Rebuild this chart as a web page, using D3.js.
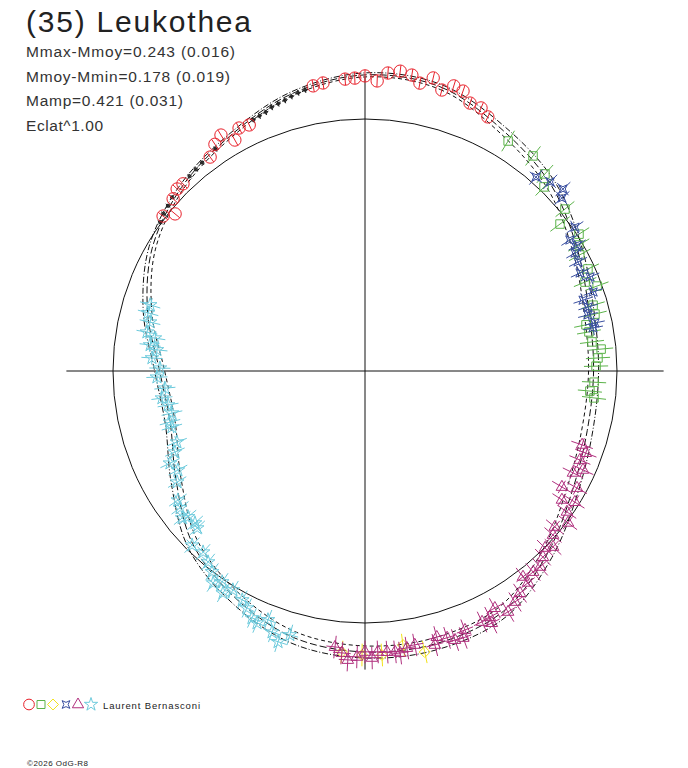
<!DOCTYPE html>
<html lang="fr">
<head>
    <meta charset="UTF-8">
    <title>(35) Leukothea</title>
    <script src="https://cdn.jsdelivr.net/npm/d3@7"></script>
    <style>
        body {
            margin: 0;
            background: #fff;
            font-family: "Liberation Sans", Arial, sans-serif;
        }
    </style>
</head>
<body>
    <div id="chart"></div>

    <script>
        // Fit curve: phase (deg, clockwise from top) and relative radius (reference circle = 1)
        const fitPhase = [0, 15, 30, 45, 60, 75, 90, 105, 120, 135, 150, 165,
                          180, 195, 210, 225, 240, 255, 270, 285, 300, 315, 330, 345];
        const fitMid = [1.175, 1.166, 1.100, 1.044, 0.972, 0.920, 0.907, 0.913, 0.950, 1.024, 1.100, 1.118,
                        1.115, 1.095, 1.036, 0.968, 0.866, 0.800, 0.815, 0.893, 0.975, 1.030, 1.075, 1.137];
        const fitHi = [1.183, 1.176, 1.116, 1.064, 0.992, 0.940, 0.927, 0.935, 0.974, 1.048, 1.124, 1.142,
                       1.139, 1.119, 1.060, 0.992, 0.888, 0.820, 0.835, 0.911, 0.989, 1.040, 1.083, 1.145];
        const fitLo = [1.167, 1.156, 1.084, 1.024, 0.952, 0.900, 0.887, 0.891, 0.926, 1.000, 1.076, 1.094,
                       1.091, 1.071, 1.012, 0.944, 0.844, 0.780, 0.795, 0.875, 0.961, 1.020, 1.067, 1.129];

        // Observations [phase deg, relative radius]
        const redPts = [[307.5, 1.010], [309.6, 0.978], [311.9, 1.023], [314.1, 1.038], [315.8, 1.036],
            [324.1, 1.048], [326.5, 1.079], [328.6, 1.097], [330.6, 1.052], [332.6, 1.086], [334.8, 1.079],
            [349.7, 1.150], [351.7, 1.155], [356.1, 1.161], [358.0, 1.163], [0.0, 1.171], [2.4, 1.152],
            [4.4, 1.186], [6.7, 1.198], [9.0, 1.189], [10.8, 1.163], [13.1, 1.194], [15.3, 1.156],
            [17.3, 1.185], [19.3, 1.177], [21.4, 1.142], [23.8, 1.141], [25.8, 1.120]];
        const greenPts = [[31.9, 1.075], [38.0, 1.083], [42.4, 1.059], [44.2, 1.019], [51.0, 1.021],
            [53.0, 0.969], [57.4, 1.008], [59.5, 0.985], [61.6, 0.969], [65.4, 0.973], [68.0, 0.942],
            [69.9, 0.981], [73.9, 0.942], [76.1, 0.940], [78.2, 0.896], [80.1, 0.902], [82.7, 0.908],
            [84.7, 0.941], [86.8, 0.926], [88.8, 0.917], [92.8, 0.910], [95.1, 0.896], [96.7, 0.915]];
        const yellowPts = [[184.7, 1.119], [180.6, 1.127], [176.6, 1.129], [172.1, 1.098], [168.0, 1.140]];
        const bluePts = [[41.4, 1.026], [44.4, 1.050], [47.4, 1.067], [48.7, 1.040], [55.6, 1.010],
            [57.4, 0.965], [59.3, 0.979], [60.7, 0.956], [62.9, 0.950], [65.5, 0.938], [67.3, 0.968],
            [70.9, 0.958], [72.0, 0.910], [74.0, 0.921], [75.9, 0.912], [78.2, 0.932], [79.3, 0.921]];
        const magentaPts = [[108.8, 0.910], [110.4, 0.935], [112.5, 0.923], [114.4, 0.950], [116.1, 0.919],
            [118.9, 0.961], [120.5, 0.907], [123.2, 0.934], [122.0, 0.982], [124.9, 0.977], [126.8, 1.006],
            [129.4, 0.975], [131.1, 0.990], [133.1, 1.022], [134.5, 1.002], [136.3, 1.022], [138.2, 1.043],
            [140.1, 1.040], [142.5, 1.030], [142.4, 1.061], [145.1, 1.075], [147.0, 1.093], [149.3, 1.112],
            [151.3, 1.073], [153.1, 1.095], [153.3, 1.120], [155.0, 1.099], [158.9, 1.102], [159.8, 1.129],
            [161.5, 1.126], [162.9, 1.108], [164.9, 1.094], [165.7, 1.122], [169.7, 1.105], [171.4, 1.112],
            [172.9, 1.128], [173.9, 1.121], [175.5, 1.119], [177.4, 1.116], [178.6, 1.139], [180.0, 1.115],
            [181.6, 1.135], [183.4, 1.149], [184.7, 1.123], [186.2, 1.102]];
        const cyanPts = [[287.1, 0.892], [285.0, 0.891], [282.8, 0.875], [280.1, 0.879], [278.9, 0.844],
            [276.9, 0.859], [275.8, 0.830], [273.5, 0.847], [270.8, 0.814], [268.3, 0.826], [265.1, 0.797],
            [262.4, 0.813], [260.2, 0.793], [257.7, 0.784], [255.3, 0.800], [253.8, 0.798], [249.3, 0.798],
            [246.9, 0.820], [244.7, 0.856], [242.1, 0.840], [239.4, 0.866], [235.4, 0.902], [233.5, 0.913],
            [230.5, 0.910], [228.2, 0.905], [231.2, 0.931], [226.9, 0.912], [224.8, 0.974], [221.8, 0.964],
            [219.4, 0.981], [217.3, 1.002], [215.6, 1.035], [214.1, 1.011], [212.6, 1.046], [211.1, 1.015],
            [208.2, 1.031], [206.5, 1.051], [204.6, 1.078], [203.2, 1.088], [201.3, 1.060], [199.6, 1.100],
            [197.8, 1.129], [195.9, 1.089]];
        const blackPts = [[306, 1.005], [308, 1.015], [310, 1.020], [312, 1.030], [318, 1.040], [320, 1.045],
            [322, 1.050], [326, 1.062], [336, 1.090], [337.5, 1.095], [339, 1.100], [340.5, 1.110],
            [342, 1.115], [343.5, 1.120], [345, 1.128], [346.5, 1.135], [348, 1.140]];

        // error sizes: radial (relative radius) and phase (deg)
        const errRadial = {red: 0.024, green: 0.048, yellow: 0.045, blue: 0.04, magenta: 0.045, cyan: 0.042, black: 0.012};
        const errPhase = {red: 0, green: 0, yellow: 0, blue: 1.8, magenta: 1.8, cyan: 1.8, black: 0.6};

        const title = "(35) Leukothea";
        const infoLines = ["Mmax-Mmoy=0.243 (0.016)", "Mmoy-Mmin=0.178 (0.019)", "Mamp=0.421 (0.031)", "Eclat^1.00"];
        const observer = "Laurent Bernasconi";
        const copyright = "\u00a92026 OdG-R8";

        const width = 688, height = 768;
        const cx = 365, cy = 371;
        const axisExt = 1.185;

        const svg = d3.select("#chart").append("svg")
            .attr("width", width)
            .attr("height", height);

        const r = d3.scaleLinear().domain([0, 1]).range([0, 252]);
        const rad = d => d * Math.PI / 180;

        // 4-point concave star used by the blue series
        const symbolStar4 = {
            draw(ctx, size) {
                const s = Math.sqrt(size) * 0.5, k = s * 0.55;
                ctx.moveTo(-s, -s); ctx.lineTo(0, -k); ctx.lineTo(s, -s); ctx.lineTo(k, 0);
                ctx.lineTo(s, s); ctx.lineTo(0, k); ctx.lineTo(-s, s); ctx.lineTo(-k, 0);
                ctx.closePath();
            }
        };
        // square diamond (rotated square)
        const symbolDiamondSq = {
            draw(ctx, size) {
                const s = Math.sqrt(size / 2);
                ctx.moveTo(0, -s); ctx.lineTo(s, 0); ctx.lineTo(0, s); ctx.lineTo(-s, 0);
                ctx.closePath();
            }
        };

        const series = [
            {key: "red", pts: redPts, color: "#e8202a", symbol: d3.symbolCircle, size: 120},
            {key: "green", pts: greenPts, color: "#5cb34a", symbol: d3.symbolSquare, size: 72},
            {key: "yellow", pts: yellowPts, color: "#f2e21a", symbol: symbolDiamondSq, size: 60},
            {key: "blue", pts: bluePts, color: "#3a4fa0", symbol: symbolStar4, size: 70},
            {key: "magenta", pts: magentaPts, color: "#b0307e", symbol: d3.symbolTriangle, size: 58},
            {key: "cyan", pts: cyanPts, color: "#6ccadc", symbol: d3.symbolStar, size: 58}
        ];

        // Texts
        svg.append("text")
            .attr("x", 26).attr("y", 32)
            .attr("font-size", 30).attr("fill", "#222")
            .attr("textLength", 225).attr("lengthAdjust", "spacing")
            .text(title);

        const infoLen = [209, 204, 157, 77];
        svg.selectAll("text.info").data(infoLines).enter().append("text")
            .attr("class", "info")
            .attr("x", 26).attr("y", (d, i) => 57 + i * 24.7)
            .attr("font-size", 15.5).attr("fill", "#333")
            .attr("textLength", (d, i) => infoLen[i]).attr("lengthAdjust", "spacing")
            .text(d => d);

        const g = svg.append("g").attr("transform", `translate(${cx},${cy})`);

        // Reference circle and axes
        g.append("circle").attr("r", r(1))
            .attr("fill", "none").attr("stroke", "#111").attr("stroke-width", 1);
        g.append("line")
            .attr("x1", -r(axisExt)).attr("x2", r(axisExt)).attr("y1", 0).attr("y2", 0)
            .attr("stroke", "#111");
        g.append("line")
            .attr("y1", -r(axisExt) + 5).attr("y2", r(axisExt)).attr("x1", 0).attr("x2", 0)
            .attr("stroke", "#111");

        // Fit curves
        const fitLine = d3.lineRadial()
            .angle(d => rad(d[0]))
            .radius(d => r(d[1]))
            .curve(d3.curveCatmullRomClosed);
        const curves = [
            {vals: fitLo, dash: "4,3"},
            {vals: fitMid, dash: "7,3"},
            {vals: fitHi, dash: "6,2,1,2"}
        ];
        curves.forEach(c => {
            g.append("path")
                .datum(fitPhase.map((p, i) => [p, c.vals[i]]))
                .attr("fill", "none")
                .attr("stroke", "#111")
                .attr("stroke-width", 1)
                .attr("stroke-dasharray", c.dash)
                .attr("d", fitLine);
        });

        // Points with radial and phase error bars
        function drawSeries(key, pts, color, symbol, size) {
            const sg = g.append("g").attr("class", key)
                .attr("stroke", color).attr("fill", "none").attr("stroke-width", 1);
            const eR = errRadial[key], eP = errPhase[key];
            pts.forEach(([p, v]) => {
                const a = d3.pointRadial(rad(p), r(v - eR));
                const b = d3.pointRadial(rad(p), r(v + eR));
                sg.append("line").attr("x1", a[0]).attr("y1", a[1]).attr("x2", b[0]).attr("y2", b[1]);
                if (eP > 0) {
                    const c = d3.pointRadial(rad(p - eP), r(v));
                    const e = d3.pointRadial(rad(p + eP), r(v));
                    sg.append("line").attr("x1", c[0]).attr("y1", c[1]).attr("x2", e[0]).attr("y2", e[1]);
                }
                const m = d3.pointRadial(rad(p), r(v));
                sg.append("path")
                    .attr("transform", `translate(${m[0]},${m[1]})`)
                    .attr("d", d3.symbol().type(symbol).size(size)());
            });
        }

        drawSeries("black", blackPts, "#222", d3.symbolCross, 6);
        series.forEach(s => drawSeries(s.key, s.pts, s.color, s.symbol, s.size));

        // Legend
        const legendX = [29, 41, 53, 66, 78, 91];
        const legendSize = [90, 64, 60, 60, 55, 55];
        series.forEach((s, i) => {
            svg.append("path")
                .attr("transform", `translate(${legendX[i]},704.5)`)
                .attr("d", d3.symbol().type(s.symbol).size(legendSize[i])())
                .attr("fill", "none").attr("stroke", s.color).attr("stroke-width", 1);
        });
        svg.append("text")
            .attr("x", 103).attr("y", 709)
            .attr("font-size", 9.5).attr("fill", "#222")
            .attr("textLength", 97).attr("lengthAdjust", "spacing")
            .text(observer);

        svg.append("text")
            .attr("x", 27).attr("y", 766)
            .attr("font-size", 8).attr("fill", "#222")
            .attr("textLength", 61).attr("lengthAdjust", "spacing")
            .text(copyright);
    </script>
</body>
</html>
